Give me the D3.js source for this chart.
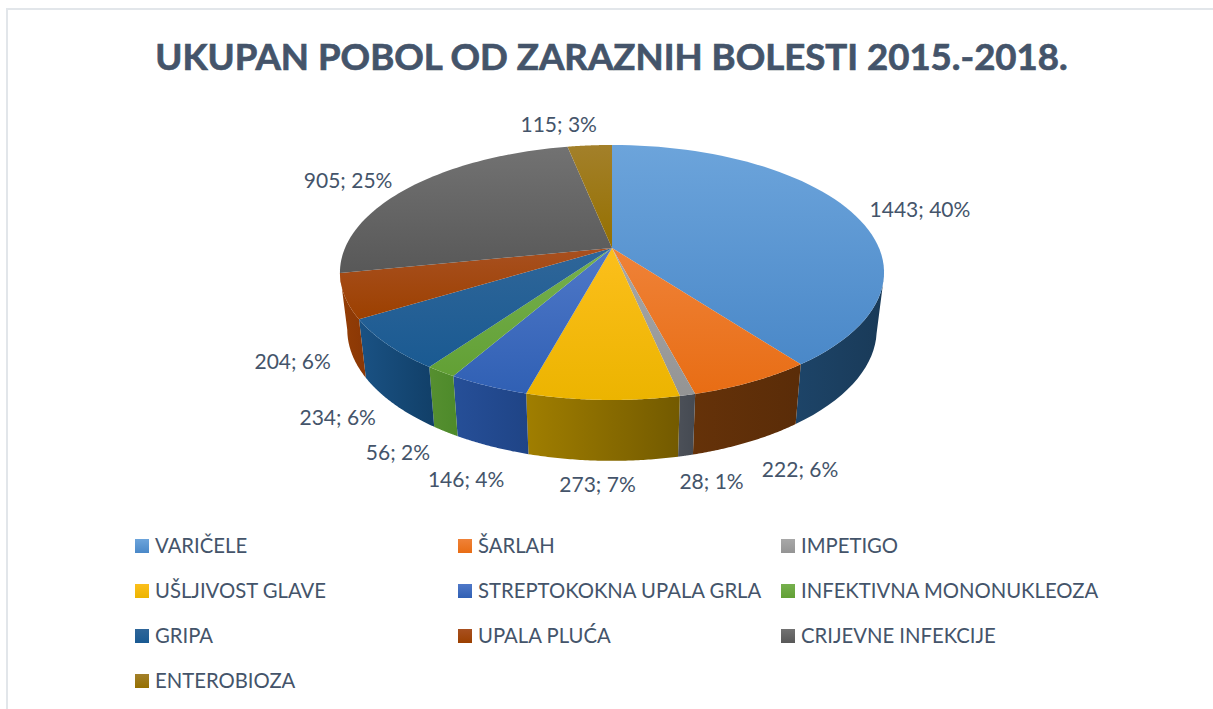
<!DOCTYPE html>
<meta charset="utf-8">
<style>
  html, body { margin: 0; padding: 0; background: #fff; }
  text { font-family: Lato, "Open Sans", sans-serif; fill: #44546a; }
</style>
<script src="https://d3js.org/d3.v7.min.js"></script>
<div id="my_dataviz"></div>
<script>
  // values
  var categories = ["VARIČELE", "ŠARLAH", "IMPETIGO", "UŠLJIVOST GLAVE", "STREPTOKOKNA UPALA GRLA",
                    "INFEKTIVNA MONONUKLEOZA", "GRIPA", "UPALA PLUĆA", "CRIJEVNE INFEKCIJE", "ENTEROBIOZA"];
  var cases = [1443, 222, 28, 273, 146, 56, 234, 204, 905, 115];
  var percents = [40, 6, 1, 7, 4, 2, 6, 6, 25, 3];

  // top face gradient (light, dark) and side face gradient (left, right)
  var topLight = ["#6ca4db", "#ef8238", "#a8a8a8", "#fcbf1c", "#4f78c8", "#76b04e", "#2f6699", "#a85020", "#727272", "#a3802a"];
  var topDark = ["#4a88c8", "#e86d14", "#949494", "#ecb400", "#3060b4", "#62a035", "#1a5a92", "#9c4000", "#585858", "#957000"];
  var sideLeft = ["#1d4468", "#653209", "#4c5058", "#a07e00", "#264f98", "#568f30", "#1a5284", "#943e06", "#444444", "#7f6000"];
  var sideRight = ["#193a58", "#5a2c08", "#454a52", "#735a00", "#1f4486", "#4d8a2a", "#113f68", "#8a3705", "#444444", "#7f6000"];

  // label offset from the rim point of each slice
  var labelDx = [69, 48, 24, -5, -22, -43, -50, -52, -63, -31];
  var labelDy = [-2, 88, 87, 85, 94, 81, 73, 65, -6, -21];

  var width = 1213, height = 709;

  var svg = d3.select("#my_dataviz")
    .append("svg")
      .attr("width", width)
      .attr("height", height)
      .style("display", "block");

  var defs = svg.append("defs");

  // frame, only left and top are in the picture
  svg.append("path")
    .attr("d", "M7,709V9H1213")
    .attr("fill", "none")
    .attr("stroke", "#e2e6ea")
    .attr("stroke-width", 2);

  // title, the thin stroke makes it as heavy as the original
  svg.append("text")
    .attr("x", 611.5).attr("y", 70)
    .attr("text-anchor", "middle")
    .style("font-size", "36.6px")
    .style("font-weight", 700)
    .style("stroke", "#44546a")
    .style("stroke-width", 0.7)
    .text("UKUPAN POBOL OD ZARAZNIH BOLESTI 2015.-2018.");

  // the perspective of the tilted disc
  var cx = 612, cy = 248, rx = 267, ry = 122.8, persp = 0.192;
  var bottomY = 304.3, bottomScaleX = 0.973, bottomScaleY = 1.03;

  function topPoint(a, r) {
    var w = 1 + persp * r * Math.cos(a);
    return [cx + rx * r * Math.sin(a) / w, cy - ry * r * Math.cos(a) / w];
  }
  function bottomPoint(a) {
    var w = 1 + persp * Math.cos(a);
    return [cx + bottomScaleX * rx * Math.sin(a) / w, bottomY - bottomScaleY * ry * Math.cos(a) / w];
  }

  var pie = d3.pie().sort(null)(cases);
  var line = d3.line();

  function arcAngles(d) {
    return d3.range(0, 61).map(function(i) {
      return d.startAngle + (d.endAngle - d.startAngle) * i / 60;
    });
  }

  function gradient(id, c1, c2, horizontal) {
    var g = defs.append("linearGradient").attr("id", id)
      .attr("x1", 0).attr("y1", 0)
      .attr("x2", horizontal ? 1 : 0).attr("y2", horizontal ? 0 : 1);
    g.append("stop").attr("offset", "0%").attr("stop-color", c1);
    g.append("stop").attr("offset", "100%").attr("stop-color", c2);
  }

  categories.forEach(function(c, i) {
    gradient("top" + i, topLight[i], topDark[i], false);
    gradient("side" + i, sideLeft[i], sideRight[i], true);
  });

  // sides first, only the part of the rim that faces the viewer
  svg.append("g").selectAll("path")
    .data(pie)
    .enter()
    .append("path")
      .attr("d", function(d) {
        var angles = arcAngles(d).filter(function(a) { return Math.cos(a) < -persp; });
        if (angles.length < 2) return null;
        return line(angles.map(function(a) { return topPoint(a, 1); })
          .concat(angles.slice().reverse().map(bottomPoint))) + "Z";
      })
      .attr("fill", function(d, i) { return "url(#side" + i + ")"; });

  // then the top faces
  svg.append("g").selectAll("path")
    .data(pie)
    .enter()
    .append("path")
      .attr("d", function(d) {
        return line([[cx, cy]].concat(arcAngles(d).map(function(a) { return topPoint(a, 1); }))) + "Z";
      })
      .attr("fill", function(d, i) { return "url(#top" + i + ")"; });

  // data labels
  svg.append("g").selectAll("text")
    .data(pie)
    .enter()
    .append("text")
      .attr("x", function(d, i) { return topPoint((d.startAngle + d.endAngle) / 2, 1)[0] + labelDx[i]; })
      .attr("y", function(d, i) { return topPoint((d.startAngle + d.endAngle) / 2, 1)[1] + labelDy[i]; })
      .attr("dy", "0.35em")
      .attr("text-anchor", "middle")
      .style("font-size", "21px")
      .text(function(d, i) { return cases[i] + "; " + percents[i] + "%"; });

  // legend
  var legend = svg.append("g").selectAll("g")
    .data(categories)
    .enter()
    .append("g")
      .attr("transform", function(d, i) {
        return "translate(" + (135 + (i % 3) * 323) + "," + (546 + Math.floor(i / 3) * 45) + ")";
      });

  legend.append("rect")
    .attr("x", 0).attr("y", -7)
    .attr("width", 14).attr("height", 14)
    .attr("fill", function(d, i) { return "url(#top" + i + ")"; });

  legend.append("text")
    .attr("x", 20).attr("y", 0)
    .attr("dy", "0.35em")
    .style("font-size", "20.3px")
    .text(function(d) { return d; });
</script>
